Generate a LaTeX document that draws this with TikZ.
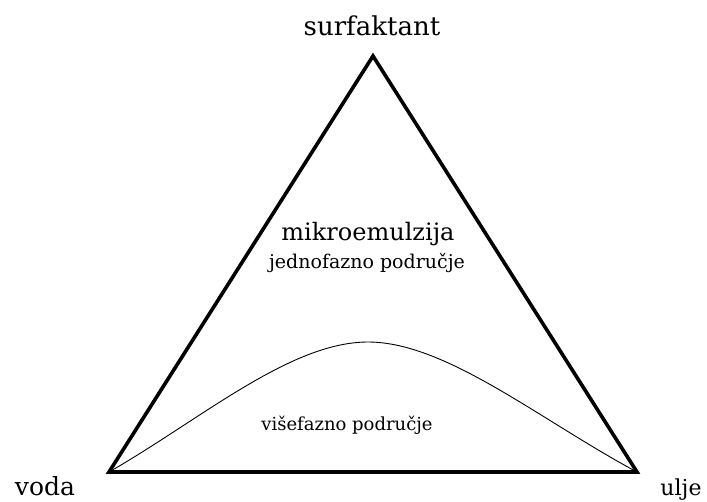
\documentclass[tikz,border=0pt]{standalone}
\usepackage{fontspec}
\setmainfont{DejaVu Serif}
\begin{document}
\begin{tikzpicture}[x=1pt,y=-1pt,
  lbl/.style={anchor=base, inner sep=0pt},
  edge/.style={line width=3.6pt, line join=miter},
  phase/.style={line width=0.9pt}]
\useasboundingbox (0,0) rectangle (707,501);
\coordinate (top) at (373,56);
\coordinate (bl) at (109,472);
\coordinate (br) at (637,472);
\coordinate (peak) at (368,342);
\draw[edge] (top) -- (bl) -- (br) -- cycle;
\draw[phase] (bl) .. controls (200,420) and (290,342) .. (peak)
  .. controls (446,342) and (540,420) .. (br);
\node[lbl, font=\fontsize{26}{28}\selectfont] (s) at (372,35) {surfaktant};
\node[lbl, font=\fontsize{25}{27}\selectfont] (v) at (45,495) {voda};
\node[lbl, font=\fontsize{22}{24}\selectfont] (u) at (681,495) {ulje};
\node[lbl, font=\fontsize{24}{26}\selectfont] (m) at (368,240) {mikroemulzija};
\node[lbl, font=\fontsize{19}{21}\selectfont] (j) at (367,268) {jednofazno područje};
\node[lbl, font=\fontsize{18}{20}\selectfont] (vi) at (347,430) {višefazno područje};
\end{tikzpicture}
\end{document}
